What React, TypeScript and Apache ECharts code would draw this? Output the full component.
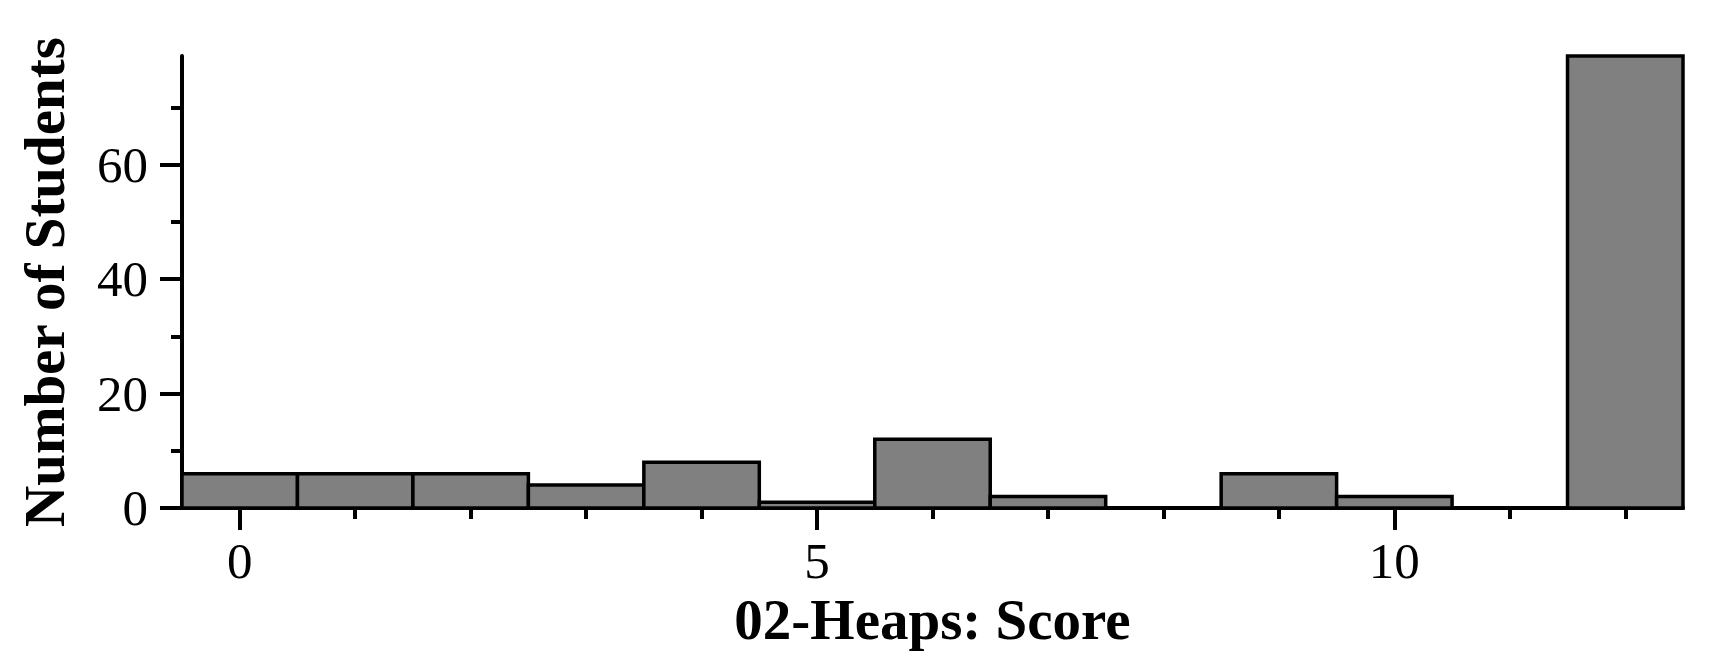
import React, { useEffect, useRef } from "react";
import * as echarts from "echarts";

const scores = [0, 1, 2, 3, 4, 5, 6, 7, 8, 9, 10, 11, 12];
const counts = [6, 6, 6, 4, 8, 1, 12, 2, 0, 6, 2, 0, 79];
const xMajorTicks = [0, 5, 10];
const xMinorTicks = [0, 1, 2, 3, 4, 5, 6, 7, 8, 9, 10, 11, 12];
const yMajorTicks = [0, 20, 40, 60];
const yMinorTicks = [0, 10, 20, 30, 40, 50, 60, 70];
const xTitle = "02-Heaps: Score";
const yTitle = "Number of Students";

const FONT = "'Liberation Serif', 'Times New Roman', serif";

export default function App() {
  const ref = useRef<HTMLDivElement>(null);
  useEffect(() => {
    if (!ref.current) return;
    const chart = echarts.init(ref.current, null, { renderer: "svg" });
    const data = scores.map((s, i) => [s, counts[i]]);
    const lineW = 4;
    chart.setOption({
      animation: false,
      backgroundColor: "#fff",
      grid: { left: 182, right: 37, top: 56, bottom: 162 },
      xAxis: [
        {
          type: "value",
          min: -0.5,
          max: 12.5,
          name: xTitle,
          nameLocation: "middle",
          nameGap: 82,
          nameTextStyle: { fontFamily: FONT, fontSize: 57, fontWeight: "bold", color: "#000" },
          axisLine: { show: true, onZero: false, lineStyle: { color: "#000", width: lineW } },
          axisTick: { show: true, length: 22, customValues: xMajorTicks, lineStyle: { color: "#000", width: lineW } },
          axisLabel: { show: true, customValues: xMajorTicks, margin: 27, fontFamily: FONT, fontSize: 51, color: "#000" },
          splitLine: { show: false },
        },
        {
          type: "value",
          min: -0.5,
          max: 12.5,
          position: "bottom",
          axisLine: { show: false, onZero: false },
          axisTick: { show: true, length: 11, customValues: xMinorTicks, lineStyle: { color: "#000", width: lineW } },
          axisLabel: { show: false },
          splitLine: { show: false },
        },
      ],
      yAxis: [
        {
          type: "value",
          min: 0,
          max: 79,
          name: yTitle,
          nameLocation: "middle",
          nameGap: 109,
          nameRotate: 90,
          nameTextStyle: { fontFamily: FONT, fontSize: 57, fontWeight: "bold", color: "#000" },
          axisLine: { show: true, onZero: false, lineStyle: { color: "#000", width: lineW } },
          axisTick: { show: true, length: 22, customValues: yMajorTicks, lineStyle: { color: "#000", width: lineW } },
          axisLabel: { show: true, customValues: yMajorTicks, margin: 34, fontFamily: FONT, fontSize: 51, color: "#000" },
          splitLine: { show: false },
        },
        {
          type: "value",
          min: 0,
          max: 79,
          position: "left",
          axisLine: { show: false, onZero: false },
          axisTick: { show: true, length: 11, customValues: yMinorTicks, lineStyle: { color: "#000", width: lineW } },
          axisLabel: { show: false },
          splitLine: { show: false },
        },
      ],
      series: [
        {
          type: "custom",
          xAxisIndex: 0,
          yAxisIndex: 0,
          data,
          z: 1,
          renderItem: (params: any, api: any) => {
            const x = api.value(0);
            const y = api.value(1);
            if (!y) return null;
            const p0 = api.coord([x - 0.5, y]);
            const p1 = api.coord([x + 0.5, 0]);
            return {
              type: "rect",
              shape: { x: p0[0], y: p0[1], width: p1[0] - p0[0], height: p1[1] - p0[1] },
              style: { fill: "#808080", stroke: "#000", lineWidth: 3.5 },
            };
          },
        },
      ],
    });
    return () => chart.dispose();
  }, []);
  return (
    <div
      ref={ref}
      style={{ position: "fixed", left: 0, top: 0, width: 1720, height: 670, background: "#fff" }}
    />
  );
}
